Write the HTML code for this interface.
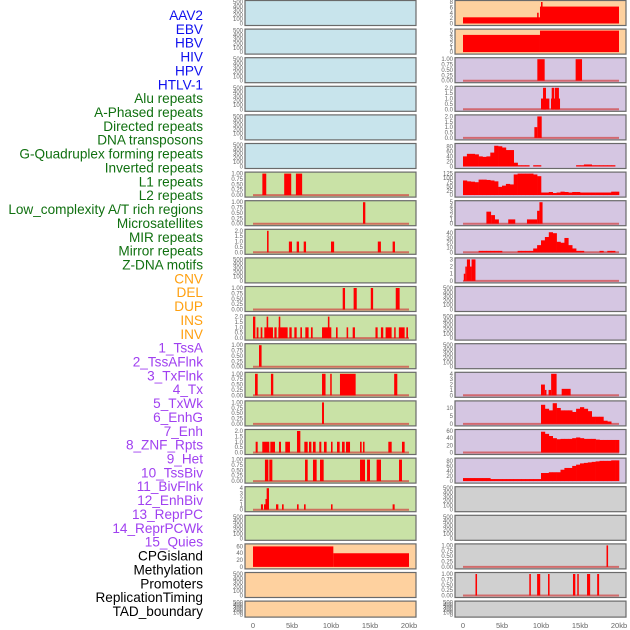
<!DOCTYPE html>
<html><head><meta charset="utf-8"><style>
html,body{margin:0;padding:0;background:#fff;width:630px;height:630px;overflow:hidden}
svg{display:block;font-family:"Liberation Sans",sans-serif}
</style></head><body>
<svg id="chart" width="630" height="630" viewBox="0 0 630 630" xmlns="http://www.w3.org/2000/svg"></svg>
<script>
// ---- labels ----
const trackLabels = ["AAV2","EBV","HBV","HIV","HPV","HTLV-1","Alu repeats","A-Phased repeats","Directed repeats","DNA transposons","G-Quadruplex forming repeats","Inverted repeats","L1 repeats","L2 repeats","Low_complexity A/T rich regions","Microsatellites","MIR repeats","Mirror repeats","Z-DNA motifs","CNV","DEL","DUP","INS","INV","1_TssA","2_TssAFlnk","3_TxFlnk","4_Tx","5_TxWk","6_EnhG","7_Enh","8_ZNF_Rpts","9_Het","10_TssBiv","11_BivFlnk","12_EnhBiv","13_ReprPC","14_ReprPCWk","15_Quies","CPGisland","Methylation","Promoters","ReplicationTiming","TAD_boundary"];
const labelGroups = [6,13,5,15,5];
const groupColors = ["#1010ee","#107010","#ffa010","#a040f0","#000000"];
const xTickValues = [0,5,10,15,20];
const xTickLabels = ["0","5kb","10kb","15kb","20kb"];

// ---- tick sets ----
const tEmpty = [0,100,200,300,400,500];
const tEmptyL = ["0","100","200","300","400","500"];
const tOne = [0,0.25,0.5,0.75,1];
const tOneL = ["0.00","0.25","0.50","0.75","1.00"];
const tTwo = [0,0.5,1,1.5,2];
const tTwoL = ["0.0","0.5","1.0","1.5","2.0"];

// ---- left column data (segments: [startKb, endKb, value]) ----
const segL1 = [[1.2,1.7,1],[4.0,4.9,1],[5.5,6.3,1]];
const segL2 = [[14.1,14.4,1]];
const segLowAT = [[1.8,2.0,2],[4.6,5.0,1],[5.6,5.9,1],[6.5,6.8,1],[10.0,10.4,1],[16.0,16.4,1],[17.9,18.2,1]];
const segCNV = [[11.5,11.8,1],[12.9,13.3,1],[15.1,15.4,1],[18.3,18.8,1]];
const segDEL = [[0,0.3,2],[0.47,0.7,1],[0.98,1.2,1],[1.45,2.56,1],[1.75,1.95,2],[2.74,3.03,1],[3.25,4.44,1],[3.3,3.5,2],[4.66,4.96,1],[5.3,5.6,1],[6.07,6.28,1],[6.71,7.13,1],[7.43,7.65,1],[8.85,10.04,1],[9.6,9.8,2],[10.64,10.85,1],[12.0,12.2,1],[12.78,13.07,1],[15.7,15.98,1],[16.4,16.7,1],[17.0,17.77,1],[18.1,18.29,1],[18.7,19.44,1],[19.66,19.87,1]];
const segDUP = [[0.77,1.1,1]];
const segINS = [[0.26,0.6,1],[2.3,2.6,1],[8.85,9.3,1],[9.9,10.04,1],[11.15,13.16,1],[18.1,18.5,1]];
const segINV = [[8.85,9.1,1]];
const seg1TssA = [[0.34,0.6,1],[1.19,2.09,1],[2.22,2.82,1],[3.33,3.59,1],[4.14,4.74,1],[5.64,6.07,2],[6.58,7.01,1],[7.18,7.48,1],[7.69,8.03,1],[8.5,8.76,1],[9.1,9.44,1],[10.0,10.2,1],[10.77,11.11,1],[11.41,11.75,1],[11.92,12.44,1],[13.72,13.93,1],[14.1,14.3,1],[17.35,17.78,1],[19.1,19.44,1]];
const seg2TssAFlnk = [[1.53,1.97,1],[2.09,2.48,1],[6.67,7.01,1],[7.69,8.16,1],[8.59,9.06,1],[13.72,14.36,1],[14.62,15.0,1],[15.85,16.41,1],[18.72,19.1,1]];
const seg3TxFlnk = [[1.02,1.28,1],[1.41,1.66,1],[1.6,1.75,2],[1.75,2.05,4],[2.95,3.25,1],[3.72,3.93,1],[5.64,5.85,1],[6.54,6.75,1],[10.0,10.2,1],[17.9,18.16,1]];
const segCPG = [[0,10.3,60],[10.3,20,40]];

// ---- right column data ----
const segAAV2 = [[0,9.87,2.3],[9.5,9.7,4],[9.87,20,6.3],[10.0,10.2,8]];
const segEBV = [[0,9.87,4],[9.87,20,5]];
const segHIV = [[9.53,10.47,1],[14.44,15.26,1]];
const segHPV = [[10.0,11.07,1],[10.26,10.64,2],[11.28,12.44,1],[11.37,11.7,2],[11.79,12.3,2]];
const segHTLV = [[9.15,9.53,1],[9.53,10.09,2]];
const binsAlu = [40,50,50,48,40,38,40,55,82,80,75,65,65,15,5,5,5,0,5,5,0,0,0,0,0,0,0,0,0,5,5,8,8,5,5,5,5,5,5,0];
const binsAPhased = [85,80,78,75,90,90,88,85,80,48,55,65,62,120,125,125,125,125,120,110,15,15,18,12,15,20,18,15,18,18,15,15,15,15,15,15,15,15,20,20];
const segDirected = [[3.0,3.6,2.8],[3.6,4.1,2],[4.1,4.6,1],[5.8,6.7,1],[8.2,9.5,1],[9.5,9.8,3],[9.8,10.2,5]];
const binsDNATrans = [0,0,0,0,3,3,3,3,3,3,0,0,0,0,3,3,3,3,8,15,25,32,42,40,22,20,30,15,8,3,3,0,0,0,0,3,0,3,3,0];
const segGQuad = [[0.1,0.3,1],[0.3,0.5,2],[0.5,0.9,3],[0.9,1.1,2],[1.1,1.6,3]];
const segR4Tx = [[10.0,10.5,2],[10.5,10.7,1],[10.97,11.3,1],[11.3,12.0,4],[12.65,13.8,1.2]];
const bins5TxWk = [0,0,0,0,0,0,0,0,0,0,0,0,0,0,0,0,0,0,0,0,12,9.5,8.5,13,10,8.5,8.5,8.5,7.5,9.5,10.5,9.5,8,4.5,4.5,4.5,2,1.5,0,0];
const bins6EnhG = [0,0,0,0,0,0,0,0,0,0,0,0,0,0,0,0,0,0,0,0,58,52,46,40,37,38,38,38,40,42,40,38,38,38,36,35,35,35,35,35];
const bins7Enh = [12,12,12,12,12,12,12,8,8,8,8,8,8,8,8,8,8,8,8,8,32,32,35,35,35,45,52,52,60,65,70,72,74,76,78,80,80,80,82,82];
const segRCPG = [[18.4,18.6,1]];
const segRMeth = [[1.6,1.8,1],[8.5,8.7,1],[9.5,9.9,1],[10.9,11.1,1],[14.1,14.4,1],[14.65,14.8,1],[15.9,16.3,1],[17.2,17.45,1]];

const BLUE="#c8e4ec", GREEN="#c9e2a6", ORANGE="#fed19f", PURPLE="#d5c6e2", GRAY="#d0d0d0";
// panel config: [column, row, bg, kind, data, yMax, ticks, tickLabels, baseline]
const panels = [];
for(let r=0;r<6;r++) panels.push([0,r,BLUE,null,null,500,tEmpty,tEmptyL,false]);
panels.push([0,6,GREEN,"seg",segL1,1,tOne,tOneL,true]);
panels.push([0,7,GREEN,"seg",segL2,1,tOne,tOneL,true]);
panels.push([0,8,GREEN,"seg",segLowAT,2,tTwo,tTwoL,true]);
panels.push([0,9,GREEN,null,null,500,tEmpty,tEmptyL,false]);
panels.push([0,10,GREEN,"seg",segCNV,1,tOne,tOneL,true]);
panels.push([0,11,GREEN,"seg",segDEL,2,tTwo,tTwoL,true]);
panels.push([0,12,GREEN,"seg",segDUP,1,tOne,tOneL,true]);
panels.push([0,13,GREEN,"seg",segINS,1,tOne,tOneL,true]);
panels.push([0,14,GREEN,"seg",segINV,1,tOne,tOneL,true]);
panels.push([0,15,GREEN,"seg",seg1TssA,2,tTwo,tTwoL,true]);
panels.push([0,16,GREEN,"seg",seg2TssAFlnk,1,tOne,tOneL,true]);
panels.push([0,17,GREEN,"seg",seg3TxFlnk,4,[0,1,2,3,4],["0","1","2","3","4"],true]);
panels.push([0,18,GREEN,null,null,500,tEmpty,tEmptyL,false]);
panels.push([0,19,ORANGE,"seg",segCPG,63,[0,20,40,60],["0","20","40","60"],false]);
panels.push([0,20,ORANGE,null,null,500,tEmpty,tEmptyL,false]);
panels.push([0,21,ORANGE,null,null,500,tEmpty,tEmptyL,false]);
panels.push([1,0,ORANGE,"seg",segAAV2,8,[0,2,4,6,8],["0","2","4","6","8"],false]);
panels.push([1,1,ORANGE,"seg",segEBV,5,[0,1,2,3,4,5],["0","1","2","3","4","5"],false]);
panels.push([1,2,PURPLE,"seg",segHIV,1,tOne,tOneL,true]);
panels.push([1,3,PURPLE,"seg",segHPV,2,tTwo,tTwoL,true]);
panels.push([1,4,PURPLE,"seg",segHTLV,2,tTwo,tTwoL,true]);
panels.push([1,5,PURPLE,"bin",binsAlu,85,[0,20,40,60,80],["0","20","40","60","80"],false]);
panels.push([1,6,PURPLE,"bin",binsAPhased,125,[0,25,50,75,100,125],["0","25","50","75","100","125"],false]);
panels.push([1,7,PURPLE,"seg",segDirected,5,[0,1,2,3,4,5],["0","1","2","3","4","5"],true]);
panels.push([1,8,PURPLE,"bin",binsDNATrans,45,[0,10,20,30,40],["0","10","20","30","40"],true]);
panels.push([1,9,PURPLE,"seg",segGQuad,3,[0,1,2,3],["0","1","2","3"],true]);
for(let r=10;r<13;r++) panels.push([1,r,PURPLE,null,null,500,tEmpty,tEmptyL,false]);
panels.push([1,13,PURPLE,"seg",segR4Tx,4,[0,1,2,3,4],["0","1","2","3","4"],true]);
panels.push([1,14,PURPLE,"bin",bins5TxWk,13.5,[0,5,10],["0","5","10"],true]);
panels.push([1,15,PURPLE,"bin",bins6EnhG,60,[0,20,40,60],["0","20","40","60"],true]);
panels.push([1,16,PURPLE,"bin",bins7Enh,85,[0,20,40,60,80],["0","20","40","60","80"],false]);
panels.push([1,17,GRAY,null,null,500,tEmpty,tEmptyL,false]);
panels.push([1,18,GRAY,null,null,500,tEmpty,tEmptyL,false]);
panels.push([1,19,GRAY,"seg",segRCPG,1,tOne,tOneL,true]);
panels.push([1,20,GRAY,"seg",segRMeth,1,tOne,tOneL,true]);
panels.push([1,21,GRAY,null,null,500,tEmpty,tEmptyL,false]);

const NS="http://www.w3.org/2000/svg";
const svg=document.getElementById("chart");
function mk(tag,attrs,parent){const e=document.createElementNS(NS,tag);for(const k in attrs)e.setAttribute(k,attrs[k]);(parent||svg).appendChild(e);return e;}
const colX=[245,455], colW=171, kbScale=7.8, zeroOff=8;
function xScale(col,kb){return colX[col]+zeroOff+kb*kbScale;}
function rowTop(r){return 0.5+r*28.6;}
function rowH(r){return r===21?16:25;}
function yScale(r,v,yMax){const t=rowTop(r)+1.5,b=rowTop(r)+rowH(r)-2;return b-(v/yMax)*(b-t);}

// labels
let li=0;
labelGroups.forEach((n,g)=>{for(let k=0;k<n;k++){const t=mk("text",{x:203,y:15+li*13.86+5,"text-anchor":"end","font-size":"13.6",fill:groupColors[g]});t.textContent=trackLabels[li];


li++;}});

panels.forEach(p=>{
  const [col,r,bg,kind,data,yMax,ticks,tl,base]=p;
  const g=mk("g",{});
  
  
  const top=rowTop(r),h=rowH(r);
  mk("rect",{x:colX[col],y:top,width:colW,height:h,fill:bg,stroke:"#6a6a6a","stroke-width":"1.2"},g);
  if(base){const bl=mk("line",{x1:xScale(col,0),x2:xScale(col,20),y1:yScale(r,0,yMax),y2:yScale(r,0,yMax),stroke:"#d04040","stroke-width":"2","stroke-opacity":"0.7"},g);
    
    }
  if(kind==="seg"){data.forEach(s=>{const x1=xScale(col,s[0]),x2=xScale(col,s[1]),y=yScale(r,s[2],yMax),y0=yScale(r,0,yMax);
    const b=mk("rect",{x:x1,y:y,width:Math.max(1.5,x2-x1),height:y0-y,fill:"#ff0000"},g);
    
    });}
  if(kind==="bin"){data.forEach((v,i)=>{if(!v)return;const x1=xScale(col,i*0.5),x2=xScale(col,(i+1)*0.5),y=yScale(r,v,yMax),y0=yScale(r,0,yMax);
    const b=mk("rect",{x:x1,y:y,width:x2-x1+0.3,height:y0-y,fill:"#ff0000"},g);
    
    });}
  ticks.forEach((v,i)=>{const t=mk("text",{x:colX[col]-2,y:yScale(r,v,yMax)+2,"text-anchor":"end","font-size":"6",fill:"#666"},g);t.textContent=tl[i];
    
    });
});
[0,1].forEach(col=>{xTickValues.forEach((v,i)=>{const t=mk("text",{x:xScale(col,v),y:628,"text-anchor":"middle","font-size":"7.5",fill:"#666"});t.textContent=xTickLabels[i];
  
  });});
</script>
</body></html>
